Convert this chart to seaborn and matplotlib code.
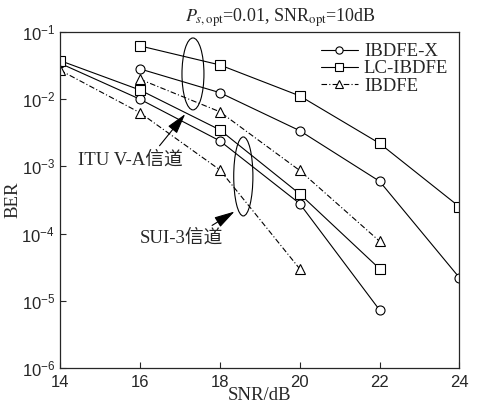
import matplotlib
matplotlib.use("Agg")
import matplotlib.pyplot as plt
from matplotlib.patches import Ellipse
from matplotlib.lines import Line2D
import seaborn as sns

# BER curves
itu_snr = [16, 18, 20, 22, 24]
itu_ibdfe_x = [0.0282, 0.0125, 0.0034, 6.0e-4, 2.2e-5]
itu_lc_ibdfe = [0.062, 0.0323, 0.0112, 0.0022, 2.5e-4]
itu_ibdfe_snr = [16, 18, 20, 22]
itu_ibdfe = [0.0198, 0.0065, 8.7e-4, 7.7e-5]

sui_snr = [14, 16, 18, 20, 22]
sui_ibdfe_x = [0.0342, 0.0100, 0.0024, 2.8e-4, 7.3e-6]
sui_lc_ibdfe = [0.0375, 0.0137, 0.0035, 3.9e-4, 3.0e-5]
sui_ibdfe_snr = [14, 16, 18, 20]
sui_ibdfe = [0.027, 0.0063, 8.9e-4, 3.0e-5]

labels = ['IBDFE-X', 'LC-IBDFE', 'IBDFE']
x_ticks = [14, 16, 18, 20, 22, 24]

sns.set_style("ticks")
plt.rcParams['font.family'] = ['Liberation Sans', 'DejaVu Sans']
plt.rcParams['xtick.direction'] = 'in'
plt.rcParams['ytick.direction'] = 'in'
serif = ['Liberation Serif', 'Noto Sans CJK SC']

fig = plt.figure(figsize=(4.87, 4.04), dpi=100)
ax = fig.add_axes([0.123, 0.089, 0.8205, 0.832])

dashdot = (0, (5, 2, 1, 2))
styles = {
    'IBDFE-X': dict(marker='o', linestyle='-'),
    'LC-IBDFE': dict(marker='s', linestyle='-'),
    'IBDFE': dict(marker='^', linestyle=dashdot),
}
common = dict(color='black', linewidth=0.8, markersize=6.5,
              markerfacecolor='white', markeredgecolor='black',
              markeredgewidth=0.8)

series = [
    ('IBDFE-X', itu_snr, itu_ibdfe_x),
    ('LC-IBDFE', itu_snr, itu_lc_ibdfe),
    ('IBDFE', itu_ibdfe_snr, itu_ibdfe),
    ('IBDFE-X', sui_snr, sui_ibdfe_x),
    ('LC-IBDFE', sui_snr, sui_lc_ibdfe),
    ('IBDFE', sui_ibdfe_snr, sui_ibdfe),
]
for name, xs, ys in series:
    sns.lineplot(x=xs, y=ys, ax=ax, **styles[name], **common)

ax.set_yscale('log')
ax.set_xlim(14, 24)
ax.set_ylim(1e-6, 1e-1)
ax.set_xticks(x_ticks)
ax.set_yticks([1e-6, 1e-5, 1e-4, 1e-3, 1e-2, 1e-1])
ax.minorticks_off()
ax.tick_params(labelsize=12, length=4, width=0.8)
ax.tick_params(axis='x', pad=5)
for s in ax.spines.values():
    s.set_linewidth(0.9)

ax.set_xlabel('SNR/dB', family=serif, fontsize=13.5, labelpad=-2)
ax.set_ylabel('BER', family=serif, fontsize=13.5)
ax.yaxis.set_label_coords(-0.097, 0.5)

fig.text(0.575, 0.955, r'$P_{s,\mathrm{opt}}$=0.01, SNR$_{\mathrm{opt}}$=10dB',
         ha='center', va='center', family=serif, fontsize=13,
         math_fontfamily='stix')

handles = [Line2D([], [], label=n, **styles[n], **common) for n in labels]
ax.legend(handles=handles, loc='upper right', frameon=False,
          prop={'family': serif, 'size': 13.5}, handlelength=2.0,
          handletextpad=0.3, labelspacing=0.0, borderaxespad=0.2,
          markerscale=0.8)

# channel group markers
ax.add_patch(Ellipse((0.333, 0.875), 0.055, 0.214, transform=ax.transAxes,
                     fill=False, edgecolor='black', linewidth=0.8))
ax.add_patch(Ellipse((0.459, 0.570), 0.048, 0.235, transform=ax.transAxes,
                     fill=False, edgecolor='black', linewidth=0.8))

arrow = dict(arrowstyle='-|>,head_length=0.9,head_width=0.25', color='black',
             linewidth=0.8, mutation_scale=14)
ax.annotate('', xy=(0.318, 0.762), xytext=(0.245, 0.655),
            xycoords='axes fraction', arrowprops=arrow)
ax.annotate('', xy=(0.443, 0.470), xytext=(0.375, 0.420),
            xycoords='axes fraction', arrowprops=arrow)
ax.text(0.045, 0.619, 'ITU V-A信道', transform=ax.transAxes, va='center',
        family=serif, fontsize=13.5)
ax.text(0.2, 0.387, 'SUI-3信道', transform=ax.transAxes, va='center',
        family=serif, fontsize=13.5)

fig.savefig('out.png', dpi=100)
